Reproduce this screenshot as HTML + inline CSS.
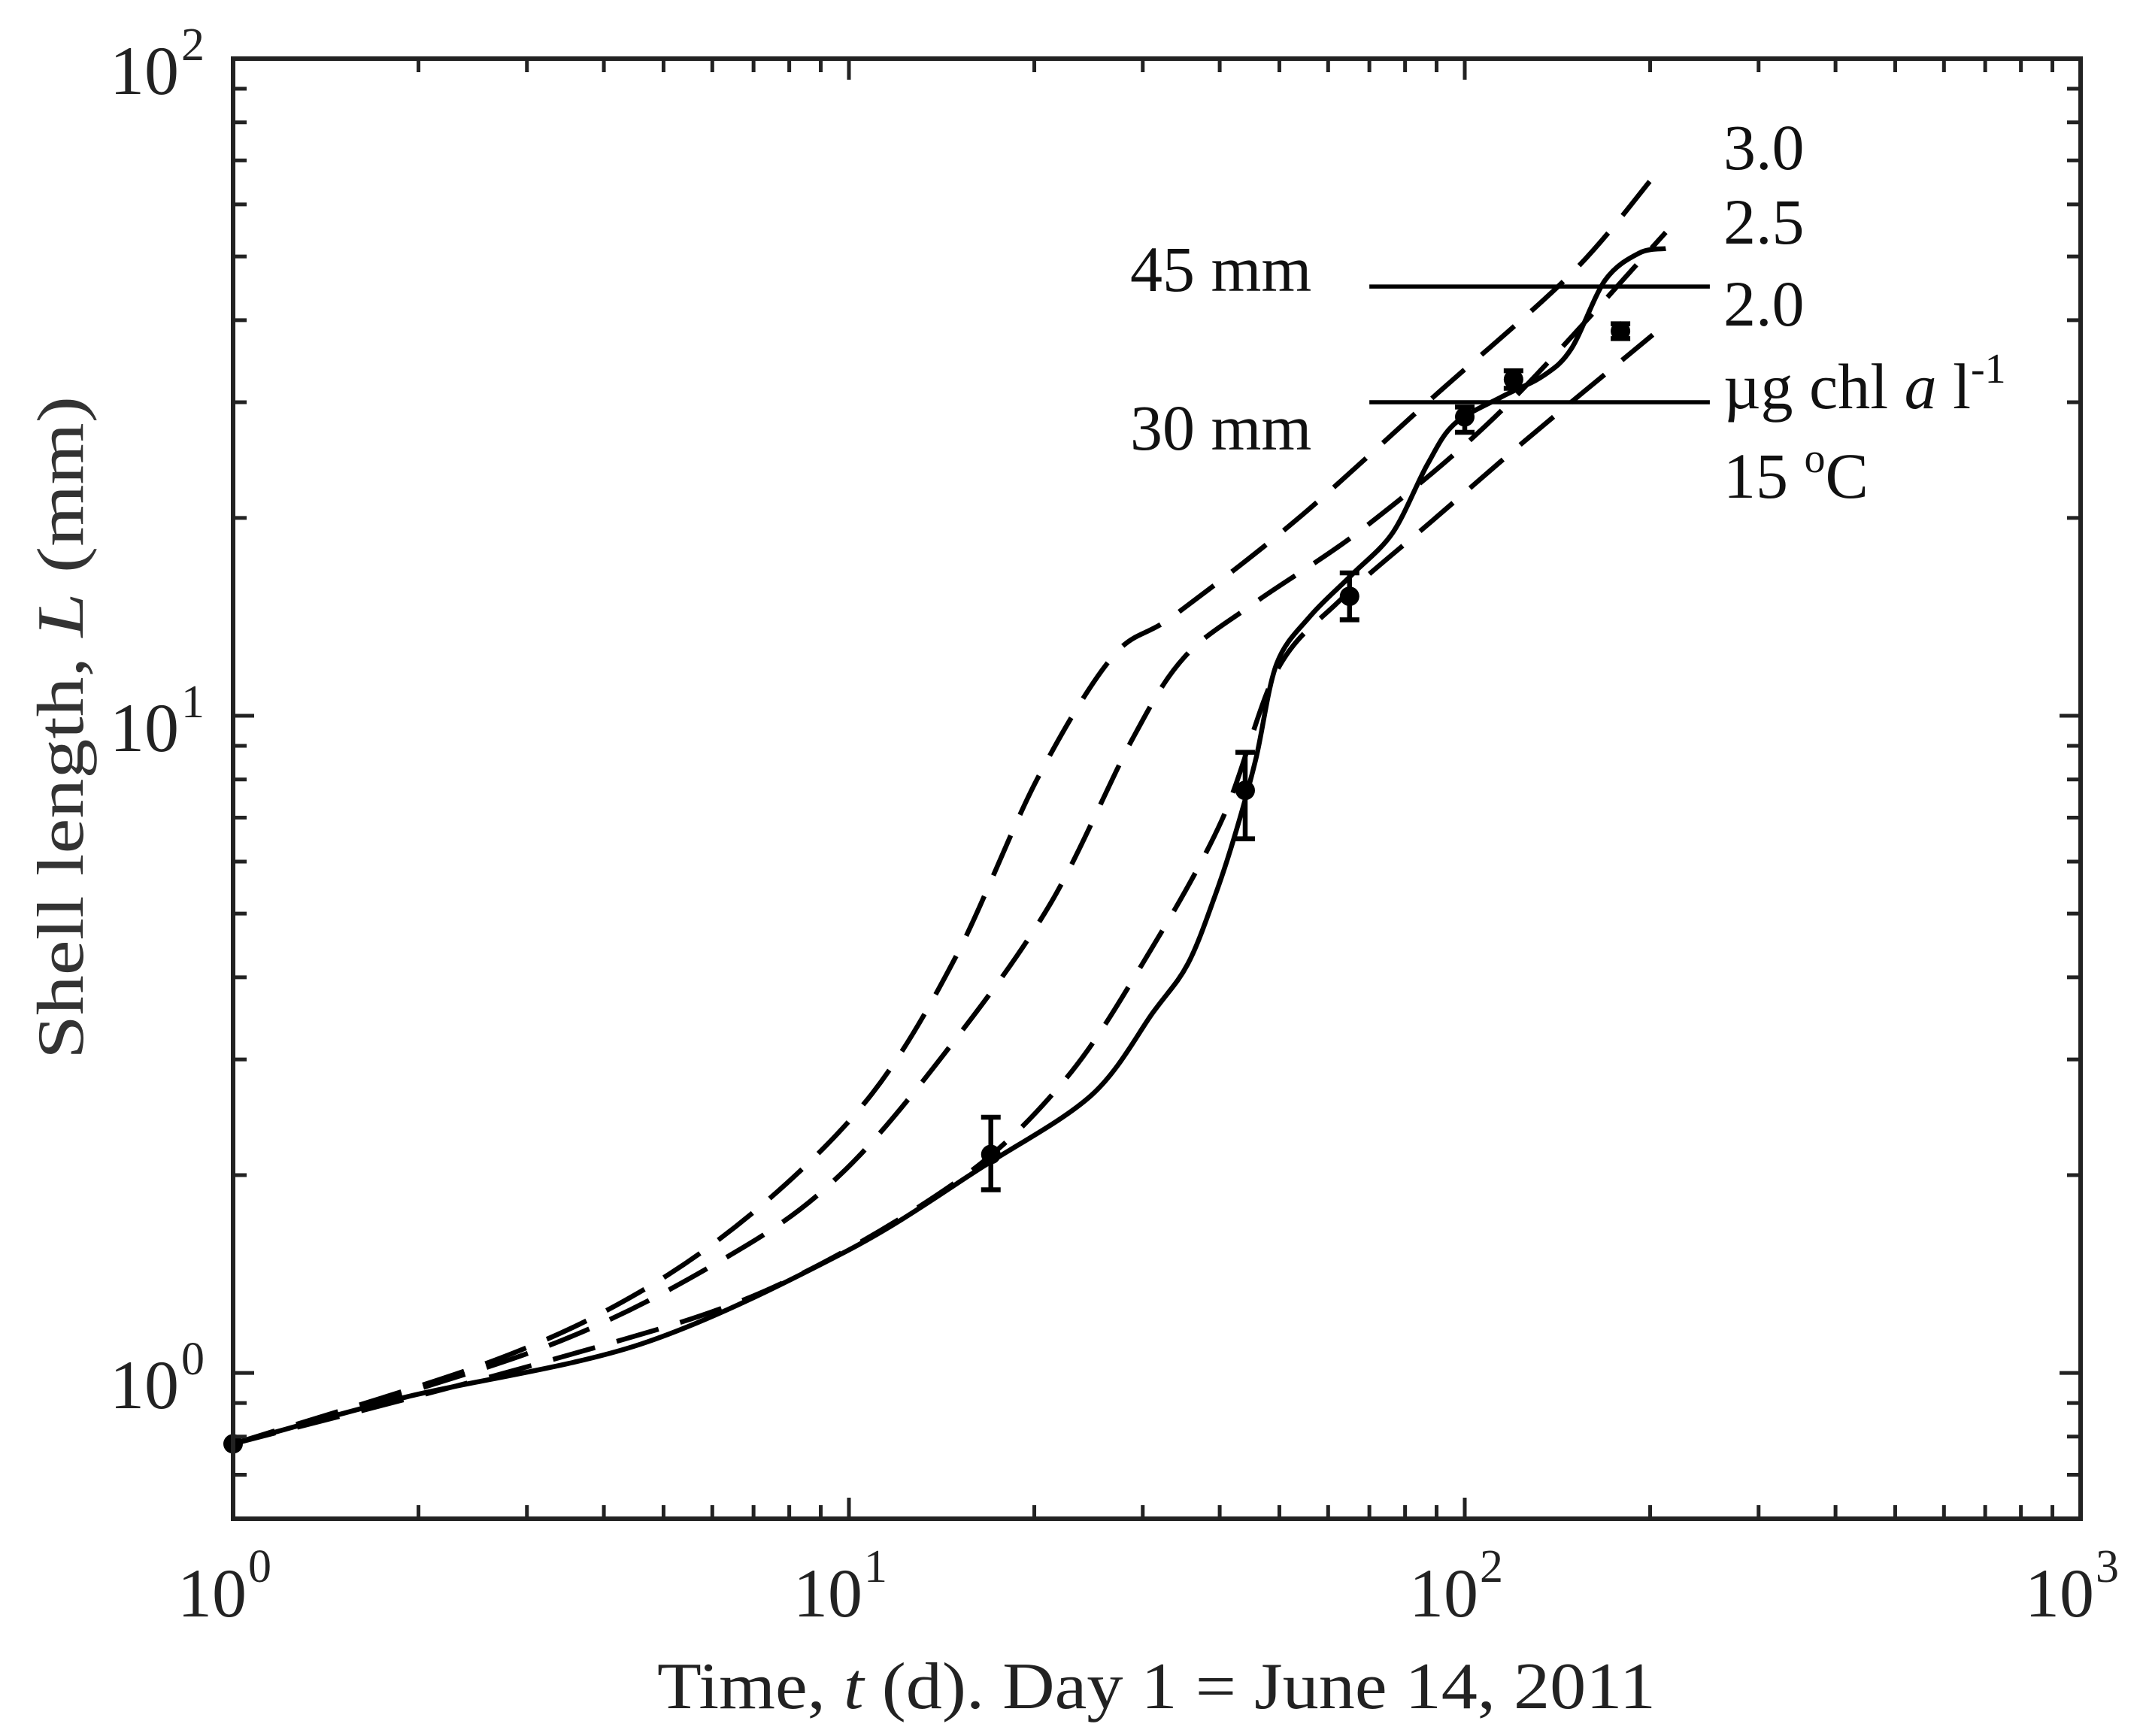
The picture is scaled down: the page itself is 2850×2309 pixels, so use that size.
<!DOCTYPE html>
<html><head><meta charset="utf-8"><style>
html,body{margin:0;padding:0;background:#fff}
svg{display:block;font-family:"Liberation Serif",serif}
</style></head><body>
<svg id="chart" width="2850" height="2309" viewBox="0 0 2850 2309" xmlns="http://www.w3.org/2000/svg">
<rect x="0" y="0" width="2850" height="2309" fill="#fff"/>
<g id="marks"></g>
<g id="axes"></g>
<text x="1538" y="2272" font-size="88" text-anchor="middle" fill="#222" textLength="1328" lengthAdjust="spacingAndGlyphs">Time, <tspan font-style="italic">t</tspan> (d). Day 1 = June 14, 2011</text>
<text transform="translate(110,968) rotate(-90)" font-size="88" text-anchor="middle" fill="#333" textLength="882" lengthAdjust="spacingAndGlyphs">Shell length, <tspan font-style="italic">L</tspan> (mm)</text>
<g font-size="86" fill="#111">
<text x="2292" y="225">3.0</text>
<text x="2292" y="324">2.5</text>
<text x="2292" y="433">2.0</text>
<text x="2292" y="543">µg chl <tspan font-style="italic">a</tspan> l<tspan font-size="56" dy="-34">-1</tspan></text>
<text x="2292" y="662">15 <tspan font-size="56" dy="-34">o</tspan><tspan dy="34">C</tspan></text>
<text x="1503" y="387">45 mm</text>
<text x="1503" y="598">30 mm</text>
</g>
</svg>
<script>
const obsT=[1,17,44,65,100,120,179];
const obsL=[0.78,2.15,7.7,15.2,28.5,32.5,38.5];
const obsLo=[0.78,1.9,6.5,14.0,27.0,31.5,37.5];
const obsHi=[0.78,2.45,8.8,16.5,29.5,33.5,39.5];
const solidT=[1,1.92,4.59,9.88,16.5,24.8,31.2,35.5,39.3,42.4,45.8,49.5,56.2,65.6,76.4,86.9,96.2,115,134,149,169,192,212];
const solidL=[0.78,0.92,1.106,1.53,2.06,2.65,3.54,4.19,5.32,6.61,8.6,12.0,14.2,16.4,19.0,24.1,27.8,30.6,32.9,36.2,46.0,50.6,51.4];
const d30T=[1,2.62,4.59,7.27,10.9,14.9,20.2,26.8,33.7,53.4,89.1,149,202];
const d30L=[0.78,1.04,1.33,1.81,2.66,4.29,8.0,12.3,14.2,19.9,30.6,47.1,65.9];
const d25T=[1,3.21,6.56,9.88,14.9,21.3,28.9,35.1,45.8,69.0,115,212];
const d25L=[0.78,1.095,1.53,2.04,3.22,5.2,9.24,12.3,14.9,19.4,29.2,54.4];
const d20T=[1,3.21,7.27,14.9,22.4,30.4,40.3,49.5,62.3,89.1,127,202];
const d20L=[0.78,1.04,1.33,1.95,2.79,4.29,6.93,11.7,14.9,19.9,26.5,38.0];
const refLevels=[45,30];
const refT0=[70,70];
const refT1=[250,250];
const xTickLabels=["0","1","2","3"];
const yTickLabels=["0","1","2"];

const X0=310,X1=2767,Y0=2020,Y1=78;
const xmin=0,xmax=3,ymin=Math.log10(0.6),ymax=2;
function sx(t){return X0+(Math.log10(t)-xmin)/(xmax-xmin)*(X1-X0);}
function sy(v){return Y0-(Math.log10(v)-ymin)/(ymax-ymin)*(Y0-Y1);}
const NS="http://www.w3.org/2000/svg";
const marks=document.getElementById('marks');
const axes=document.getElementById('axes');
function mk(tag,attrs,parent){const e=document.createElementNS(NS,tag);for(const k in attrs)e.setAttribute(k,attrs[k]);parent.appendChild(e);return e;}

function smoothPath(pts){
  let d='M'+pts[0][0].toFixed(1)+','+pts[0][1].toFixed(1);
  for(let i=0;i<pts.length-1;i++){
    const p0=pts[Math.max(0,i-1)],p1=pts[i],p2=pts[i+1],p3=pts[Math.min(pts.length-1,i+2)];
    const k=0.16;
    const c1=[p1[0]+(p2[0]-p0[0])*k,p1[1]+(p2[1]-p0[1])*k];
    const c2=[p2[0]-(p3[0]-p1[0])*k,p2[1]-(p3[1]-p1[1])*k];
    d+=' C'+c1[0].toFixed(1)+','+c1[1].toFixed(1)+' '+c2[0].toFixed(1)+','+c2[1].toFixed(1)+' '+p2[0].toFixed(1)+','+p2[1].toFixed(1);
  }
  return d;
}
function line(ts,ls,name,dash){
  const pts=ts.map((t,i)=>[sx(t),sy(ls[i])]);
  const p=mk('path',{d:smoothPath(pts),fill:'none',stroke:'#000','stroke-width':6.5,'stroke-linejoin':'round'},marks);
  if(dash)p.setAttribute('stroke-dasharray','58 30');
  
  
}
line(d30T,d30L,'dashed-curve-3-0',true);
line(d25T,d25L,'dashed-curve-2-5',true);
line(d20T,d20L,'dashed-curve-2-0',true);
line(solidT,solidL,'solid-curve-model',false);
refLevels.forEach((v,i)=>{
  const l=mk('line',{x1:sx(refT0[i]),x2:sx(refT1[i]),y1:sy(v),y2:sy(v),stroke:'#000','stroke-width':5.5},marks);
  
  
});
obsT.forEach((t,i)=>{
  const g=mk('g',{},marks);
  
  
  const x=sx(t);
  if(obsHi[i]>obsLo[i]){
    mk('line',{x1:x,x2:x,y1:sy(obsLo[i]),y2:sy(obsHi[i]),stroke:'#000','stroke-width':6.5},g);
    mk('line',{x1:x-13,x2:x+13,y1:sy(obsLo[i]),y2:sy(obsLo[i]),stroke:'#000','stroke-width':6.5},g);
    mk('line',{x1:x-13,x2:x+13,y1:sy(obsHi[i]),y2:sy(obsHi[i]),stroke:'#000','stroke-width':6.5},g);
  }
  mk('circle',{cx:x,cy:sy(obsL[i]),r:13,fill:'#000'},g);
});

const box=mk('rect',{x:X0,y:Y1,width:X1-X0,height:Y0-Y1,fill:'none',stroke:'#222','stroke-width':6},axes);


for(let dec=0;dec<3;dec++){
  for(let m=1;m<10;m++){
    const t=m*Math.pow(10,dec);const x=sx(t);const len=m===1?28:18;
    mk('line',{x1:x,x2:x,y1:Y0,y2:Y0-len,stroke:'#222','stroke-width':5},axes);
    mk('line',{x1:x,x2:x,y1:Y1,y2:Y1+len,stroke:'#222','stroke-width':5},axes);
  }
}
xTickLabels.forEach((s,i)=>{
  const x=sx(Math.pow(10,+s));
  const tx=mk('text',{x:x-28,y:2150,'font-size':92,fill:'#222','text-anchor':'middle'},axes);
  
  
  tx.textContent='10';
  const sp=mk('text',{x:x+20,y:2104,'font-size':62,fill:'#222'},axes);
  sp.textContent=s;
});
const yticks=[0.6,0.7,0.8,0.9];
for(let dec=0;dec<2;dec++)for(let m=1;m<10;m++)yticks.push(m*Math.pow(10,dec));
yticks.push(100);
yticks.forEach(v=>{
  const y=sy(v);const major=[1,10,100].includes(v);const len=major?28:18;
  mk('line',{x1:X0,x2:X0+len,y1:y,y2:y,stroke:'#222','stroke-width':5},axes);
  mk('line',{x1:X1,x2:X1-len,y1:y,y2:y,stroke:'#222','stroke-width':5},axes);
});
yTickLabels.forEach(s=>{
  const y=sy(Math.pow(10,+s));
  const tx=mk('text',{x:238,y:y+47,'font-size':92,fill:'#222','text-anchor':'end'},axes);
  
  
  tx.textContent='10';
  const sp=mk('text',{x:241,y:y+2,'font-size':62,fill:'#222'},axes);
  sp.textContent=s;
});
</script>
</body></html>
